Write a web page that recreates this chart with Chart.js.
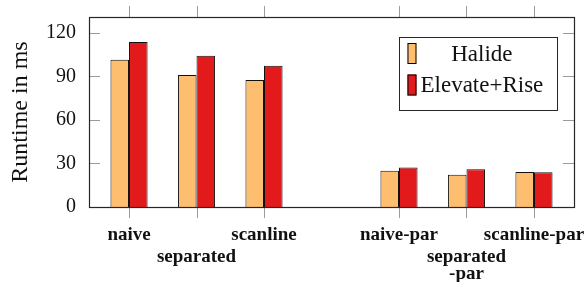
<!DOCTYPE html>
<html>
<head>
<meta charset="utf-8">
<script src="https://cdn.jsdelivr.net/npm/chart.js@4/dist/chart.umd.min.js"></script>
<style>
  html, body { margin: 0; padding: 0; background: #fff; }
  canvas { display: block; }
</style>
</head>
<body>
<canvas id="c" width="586" height="282"></canvas>
<script>
// ---- data ----
const categories = ['naive', 'separated', 'scanline', '', 'naive-par', 'separated-par', 'scanline-par'];
const tickLabels = [['naive'], ['separated'], ['scanline'], [], ['naive-par'], ['separated', '-par'], ['scanline-par']];
const labelRow = [1, 2, 1, 0, 1, 2, 1];
const halide = [101.5, 91, 87.5, null, 25, 22.3, 24.1];
const elevateRise = [113.7, 104.2, 97.4, null, 27.3, 26, 23.9];
const yTicks = [0, 30, 60, 90, 120];
const seriesNames = ['Halide', 'Elevate+Rise'];
const seriesColors = ['#FDBF6F', '#E31A1C'];

const toPoints = arr => categories.map((c, i) => ({ x: i, y: arr[i] })).filter(p => p.y !== null);
const rowTicks = row => categories.map((c, i) => i).filter(i => labelRow[i] === row).map(v => ({ value: v }));
const zeroPad = s => { s.paddingTop = 0; s.paddingBottom = 0; s.paddingLeft = 0; s.paddingRight = 0; };

const boxPlugin = {
  id: 'boxTicks',
  afterDraw(chart) {
    const { ctx, chartArea: a, scales } = chart;
    ctx.save();
    // tick marks
    ctx.strokeStyle = '#9a9a9a';
    ctx.lineWidth = 1;
    const tl = 11;
    ctx.beginPath();
    yTicks.forEach(v => {
      const y = Math.round(scales.y.getPixelForValue(v)) + 0.5;
      ctx.moveTo(a.left, y); ctx.lineTo(a.left + tl, y);
      ctx.moveTo(a.right - tl, y); ctx.lineTo(a.right, y);
    });
    categories.forEach((c, i) => {
      if (!labelRow[i]) return;
      const x = Math.round(scales.x.getPixelForValue(i)) + 0.5;
      ctx.moveTo(x, a.top - tl); ctx.lineTo(x, a.top);
      ctx.moveTo(x, a.bottom); ctx.lineTo(x, a.bottom + tl);
    });
    ctx.stroke();
    // frame
    ctx.strokeStyle = '#262626';
    ctx.lineWidth = 1.2;
    ctx.strokeRect(Math.round(a.left) + 0.5, Math.round(a.top) + 0.5, Math.round(a.right - a.left), Math.round(a.bottom - a.top));
    // legend
    ctx.font = '23px "Liberation Serif", serif';
    const names = chart.data.datasets.map(d => d.label);
    const maxW = Math.max(...names.map(n => ctx.measureText(n).width));
    const padL = 8.5, sw = 9, sh = 21, gap = 4, padR = 14;
    const bw = padL + sw + gap + maxW + padR;
    const bh = 72.6;
    const bx = a.right - 16.7 - bw;
    const by = a.top + 19.7;
    ctx.fillStyle = '#fff';
    ctx.fillRect(bx, by, bw, bh);
    ctx.strokeStyle = '#262626';
    ctx.lineWidth = 1;
    ctx.strokeRect(Math.round(bx) + 0.5, Math.round(by) + 0.5, Math.round(bw), Math.round(bh));
    const rowCenters = [16.8, 48.3];
    chart.data.datasets.forEach((d, i) => {
      const cy = by + rowCenters[i];
      ctx.fillStyle = d.backgroundColor;
      ctx.fillRect(bx + padL, cy - sh / 2, sw, sh);
      ctx.strokeStyle = '#000';
      ctx.lineWidth = 1;
      ctx.strokeRect(bx + padL + 0.5, cy - sh / 2 + 0.5, sw - 1, sh - 1);
      ctx.fillStyle = '#111';
      ctx.textAlign = 'center';
      ctx.textBaseline = 'middle';
      const tx = bx + padL + sw + gap + maxW / 2;
      ctx.fillText(d.label, tx, cy + 1);
    });
    ctx.restore();
  }
};

new Chart(document.getElementById('c'), {
  type: 'bar',
  data: {
    datasets: [
      { label: seriesNames[0], data: toPoints(halide), backgroundColor: seriesColors[0], borderColor: '#111', borderWidth: 1 },
      { label: seriesNames[1], data: toPoints(elevateRise), backgroundColor: seriesColors[1], borderColor: '#111', borderWidth: 1 }
    ]
  },
  options: {
    responsive: false,
    devicePixelRatio: 1,
    animation: false,
    layout: { padding: { left: 0, right: 12, top: 17, bottom: 0 } },
    datasets: { bar: { categoryPercentage: 0.55, barPercentage: 1, grouped: true } },
    plugins: { legend: { display: false }, tooltip: { enabled: false } },
    scales: {
      x: {
        type: 'linear', position: 'bottom', min: -0.593, max: 6.593, weight: 0, offset: false,
        grid: { display: false, drawTicks: false, offset: false }, border: { display: false },
        afterBuildTicks: s => { s.ticks = rowTicks(1); },
        afterFit: s => { s.height = 40; zeroPad(s); },
        ticks: {
          autoSkip: false, maxRotation: 0, padding: 17, color: '#111',
          font: { family: '"Liberation Serif", serif', size: 19, weight: 'bold', lineHeight: 1.2 },
          callback: v => tickLabels[v]
        }
      },
      x2: {
        type: 'linear', position: 'bottom', min: -0.593, max: 6.593, weight: 1, offset: false,
        grid: { display: false, drawTicks: false, offset: false }, border: { display: false },
        afterBuildTicks: s => { s.ticks = rowTicks(2); },
        afterFit: s => { s.height = 35; zeroPad(s); },
        ticks: {
          autoSkip: false, maxRotation: 0, padding: 2, color: '#111',
          font: { family: '"Liberation Serif", serif', size: 19, weight: 'bold', lineHeight: '17px' },
          callback: v => tickLabels[v]
        }
      },
      y: {
        min: 0, max: 131,
        grid: { display: false, drawTicks: false }, border: { display: false },
        afterBuildTicks: s => { s.ticks = yTicks.map(v => ({ value: v })); },
        afterFit: s => { s.width = 89; zeroPad(s); },
        ticks: { padding: 13, color: '#111', font: { family: '"Liberation Serif", serif', size: 20 } },
        title: {
          display: true, text: 'Runtime in ms', color: '#111',
          font: { family: '"Liberation Serif", serif', size: 24, lineHeight: 1.2 },
          padding: { top: 6, bottom: 0 }
        }
      }
    }
  },
  plugins: [boxPlugin]
});
</script>
</body>
</html>
